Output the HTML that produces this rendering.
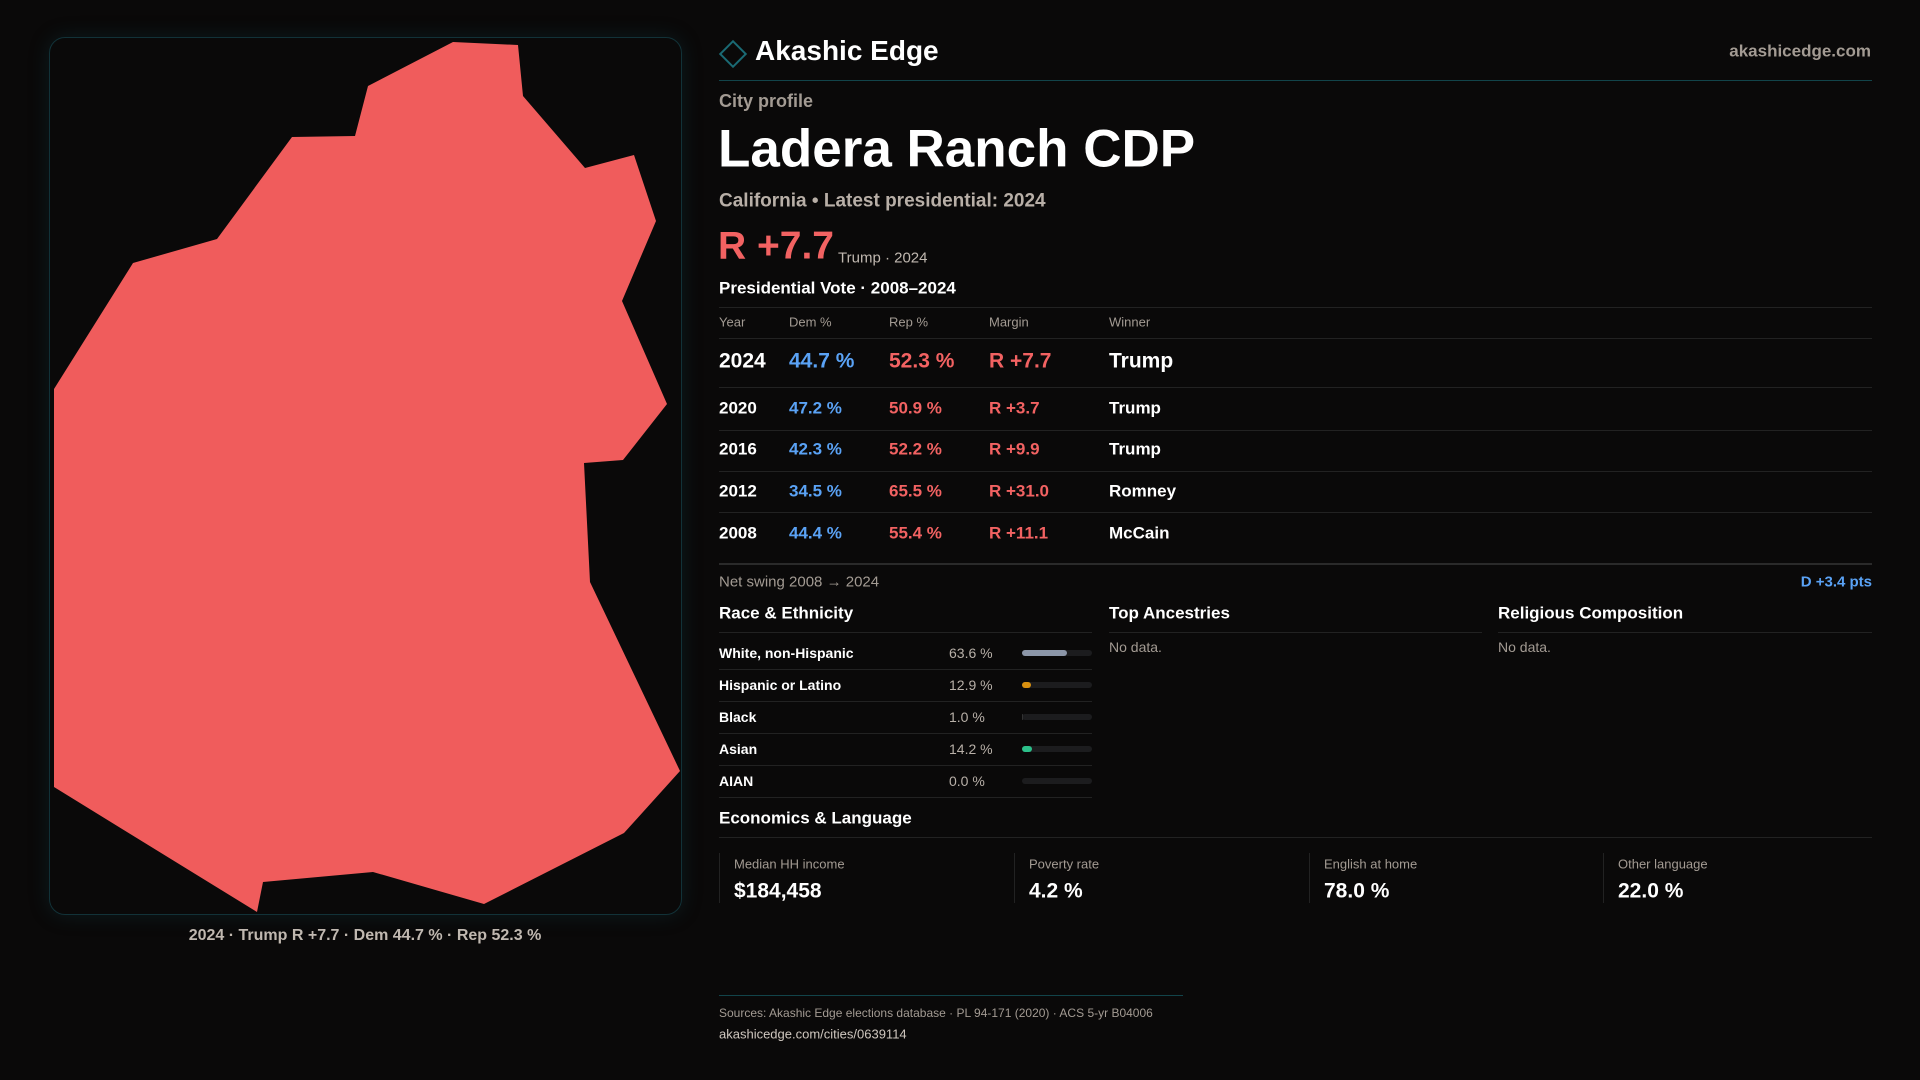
<!DOCTYPE html>
<html><head><meta charset="utf-8"><style>
*{margin:0;padding:0;box-sizing:border-box}
body{width:1920px;height:1080px;background:#0a0909;font-family:"Liberation Sans",sans-serif;color:#fff;position:relative;overflow:hidden}
.t{position:absolute;line-height:1;transform:translateY(-50%);white-space:nowrap}
.ln{position:absolute;height:1px;background:#222}
.g{color:#a39b93}
.b{color:#5aa2f5}
.r{color:#f26262}
</style></head><body>
<div style="position:absolute;left:49px;top:37px;width:633px;height:878px;border:1px solid #123238;border-radius:16px;box-shadow:0 0 20px rgba(20,80,90,0.25)">
<svg width="633" height="878" style="position:absolute;left:-1px;top:-1px">
<polygon fill="#f05c5c" transform="translate(-49,-37)" points="453,42 518,45 523,96 585,168 634,155 656,221 622,301 667,404 623,460 584,463 590,582 680,771 624,833 484,904 373,872 263,882 257,912 54,787 54,389 133,263 217,239 292,137 355,136 368,86"/>
</svg>
</div>
<div class="t" style="left:365px;top:936px;transform:translate(-50%,-50%);font-size:16px;color:#c0b8b0;font-weight:bold">2024 · Trump R +7.7 · Dem 44.7 % · Rep 52.3 %</div>

<div style="position:absolute;left:723px;top:44px;width:20px;height:20px;border:2px solid #1a6a74;transform:rotate(45deg)"></div>
<div class="t" style="left:755px;top:51px;font-size:28px;font-weight:bold">Akashic Edge</div>
<div class="t g" style="right:49px;top:51px;font-size:17px;font-weight:bold">akashicedge.com</div>
<div class="ln" style="left:719px;top:80px;width:1153px;background:#12444a"></div>

<div class="t g" style="left:719px;top:101px;font-size:18px;font-weight:bold">City profile</div>
<div class="t" style="left:718px;top:149px;font-size:53px;font-weight:bold">Ladera Ranch CDP</div>
<div class="t" style="left:719px;top:201px;font-size:19px;color:#b8afa7;font-weight:bold">California • Latest presidential: 2024</div>
<div class="t r" style="left:718px;top:246px;font-size:39px;font-weight:bold">R +7.7</div>
<div class="t" style="left:838px;top:258px;font-size:15px;color:#c0b8b0">Trump · 2024</div>
<div class="t" style="left:719px;top:288px;font-size:17px;font-weight:bold">Presidential Vote · 2008–2024</div>
<div class="ln" style="left:719px;top:307px;width:1153px"></div>
<div id="votes"></div>
<div class="ln" style="left:719px;top:563px;width:1153px;height:2px;background:#2a2a2a"></div>
<div class="t g" style="left:719px;top:582px;font-size:15px">Net swing 2008 → 2024</div>
<div class="t b" style="right:48px;top:582px;font-size:15px;font-weight:bold">D +3.4 pts</div>

<div class="t" style="left:719px;top:613px;font-size:17px;font-weight:bold">Race &amp; Ethnicity</div>
<div class="ln" style="left:719px;top:632px;width:373px"></div>
<div id="race"></div>
<div class="t" style="left:1109px;top:613px;font-size:17px;font-weight:bold">Top Ancestries</div>
<div class="ln" style="left:1109px;top:632px;width:373px"></div>
<div class="t g" style="left:1109px;top:647px;font-size:14px">No data.</div>
<div class="t" style="left:1498px;top:613px;font-size:17px;font-weight:bold">Religious Composition</div>
<div class="ln" style="left:1498px;top:632px;width:374px"></div>
<div class="t g" style="left:1498px;top:647px;font-size:14px">No data.</div>

<div class="t" style="left:719px;top:818px;font-size:17px;font-weight:bold">Economics &amp; Language</div>
<div class="ln" style="left:719px;top:837px;width:1153px"></div>
<div id="econ"></div>

<div class="ln" style="left:719px;top:995px;width:464px;background:#12444a"></div>
<div class="t g" style="left:719px;top:1013px;font-size:12px">Sources: Akashic Edge elections database · PL 94-171 (2020) · ACS 5-yr B04006</div>
<div class="t" style="left:719px;top:1034px;font-size:13px;color:#cfc7bf">akashicedge.com/cities/0639114</div>

<script>
const years=[2024,2020,2016,2012,2008];
const demPct=[44.7,47.2,42.3,34.5,44.4];
const repPct=[52.3,50.9,52.2,65.5,55.4];
const margins=[7.7,3.7,9.9,31.0,11.1];
const winners=["Trump","Trump","Trump","Romney","McCain"];
const raceLabels=["White, non-Hispanic","Hispanic or Latino","Black","Asian","AIAN"];
const racePct=[63.6,12.9,1.0,14.2,0.0];
const raceColors=["#8c96a8","#d9900f","#333","#2cc08a","#333"];
const econLabels=["Median HH income","Poverty rate","English at home","Other language"];
const econValues=["$184,458","4.2 %","78.0 %","22.0 %"];

function mk(parent,cls,style,text){const d=document.createElement('div');d.className=cls;d.style.cssText=style;if(text!==undefined)d.textContent=text;parent.appendChild(d);return d;}
const V=document.getElementById('votes');
const cols=[719,789,889,989,1109];
const heads=["Year","Dem %","Rep %","Margin","Winner"];
heads.forEach((h,i)=>{const e=mk(V,'t g',`left:${cols[i]}px;top:322px;font-size:13px`,h);

});
let l0=mk(V,'ln','left:719px;top:338px;width:1153px');


const rowY=[361,408,449,491,533],lineY=[387,430,471,512];
years.forEach((y,i)=>{
 const fs=i===0?21:17, fw='bold';
 const m=margins[i];
 const txt=[String(y),demPct[i].toFixed(1)+' %',repPct[i].toFixed(1)+' %',(repPct[i]>=demPct[i]?'R +':'D +')+m.toFixed(1),winners[i]];
 const cl=['t','t b','t r','t '+(repPct[i]>=demPct[i]?'r':'b'),'t'];
 txt.forEach((s,j)=>{const e=mk(V,cl[j],`left:${cols[j]}px;top:${rowY[i]}px;font-size:${fs}px;font-weight:${fw}`,s);
 
 });
 if(i<lineY.length){const l=mk(V,'ln',`left:719px;top:${lineY[i]}px;width:1153px`);
 
 }
});
const R=document.getElementById('race');
const bx=1022,bw=70;
raceLabels.forEach((lab,i)=>{
 const cy=653+i*32;
 const a=mk(R,'t',`left:719px;top:${cy}px;font-size:14px;font-weight:bold`,lab);
 
 
 const b=mk(R,'t',`left:949px;top:${cy}px;font-size:14px;color:#b8b0a8`,racePct[i].toFixed(1)+' %');
 
 
 const tr=mk(R,'',`position:absolute;left:${bx}px;top:${cy-3}px;width:${bw}px;height:6px;background:#1c1c1e;border-radius:3px`);
 
 
 const f=mk(R,'',`position:absolute;left:${bx}px;top:${cy-3}px;width:${bw*racePct[i]/100}px;height:6px;background:${raceColors[i]};border-radius:3px`);
 
 
 const l=mk(R,'ln',`left:719px;top:${cy+16}px;width:373px`);
 
 
});
const E=document.getElementById('econ');
const ex=[719,1014,1309,1603];
econLabels.forEach((lab,i)=>{
 const bl=mk(E,'',`position:absolute;left:${ex[i]}px;top:853px;width:1px;height:50px;background:#222`);
 
 
 const a=mk(E,'t g',`left:${ex[i]+15}px;top:864px;font-size:13px`,lab);
 
 
 const b=mk(E,'t',`left:${ex[i]+15}px;top:891px;font-size:21px;font-weight:bold`,econValues[i]);
 
 
});
</script>
</body></html>
